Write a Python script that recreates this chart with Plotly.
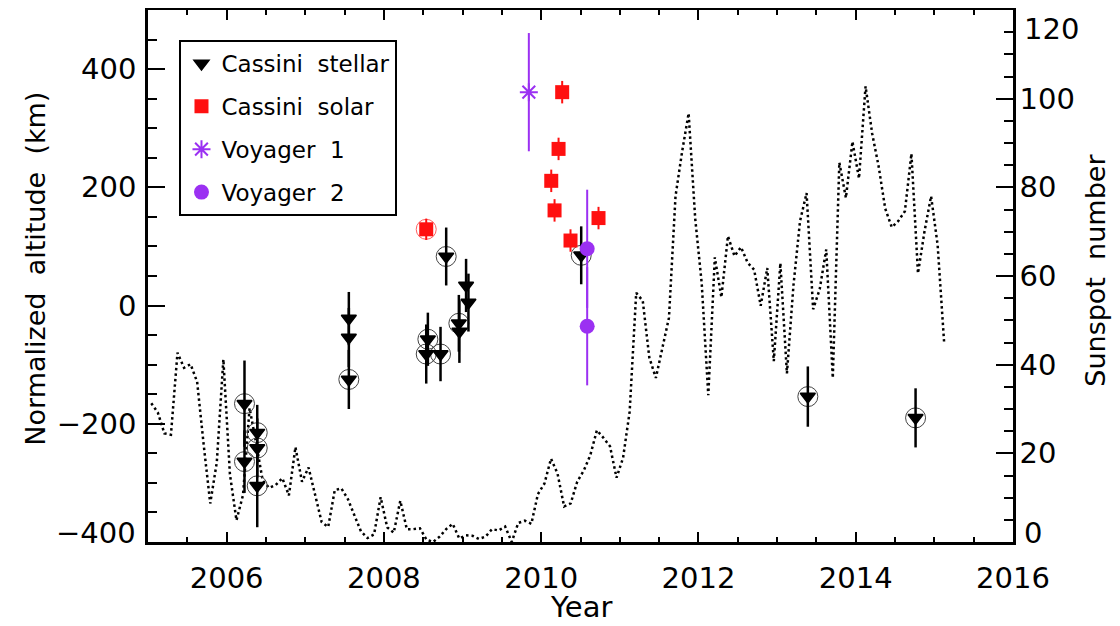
import plotly.graph_objects as go

# ---------------- data ----------------
# Cassini stellar occultations
stellar_year = [2006.227, 2006.227, 2006.389, 2006.389, 2006.389,
                2007.554, 2007.554, 2007.554,
                2008.559, 2008.538, 2008.720, 2008.792,
                2008.953, 2008.960, 2009.045, 2009.075,
                2010.509, 2013.391, 2014.761]
stellar_alt = [-166, -264, -215, -241, -305,
               -22, -54, -125,
               -57, -82, -82, 83,
               -30, -44, 34, 5,
               85, -154, -190]
stellar_err = [73, 53, 47, 50, 70,
               45, 50, 50,
               45, 50, 46, 49,
               48, 53, 45, 49,
               49, 51, 50]
stellar_circled = [True, True, True, True, True,
                   False, False, True,
                   True, True, True, True,
                   True, False, False, False,
                   True, True, True]

# Cassini solar occultations
solar_year = [2008.538, 2010.128, 2010.170, 2010.221, 2010.267, 2010.373, 2010.729]
solar_alt = [129, 211, 161, 265, 361, 110, 148]
solar_err = [18, 19, 19, 19, 19, 19, 19]
solar_circled = [True, False, False, False, False, False, False]

# Voyager
voy1_year = [2009.843]
voy1_alt = [361]
voy1_err = [100]
voy2_year = [2010.585, 2010.585]
voy2_alt = [96, -35]
voy2_err = [100, 100]

# Monthly sunspot number, Jan 2005 - Feb 2015
sunspot_start = 2005
sunspot = [31.3, 29.2, 24.5, 24.2, 42.7, 39.3, 40.1, 36.1, 21.9, 8.7, 18.0, 41.2,   # 2005
           15.3, 4.9, 10.6, 30.2, 22.3, 13.9, 12.2, 12.9, 14.4, 10.5, 21.4, 13.6,   # 2006
           16.8, 10.7, 4.5, 3.4, 11.7, 12.1, 9.7, 6.0, 2.4, 0.9, 1.7, 10.1,         # 2007
           3.3, 2.1, 9.3, 2.9, 2.9, 3.1, 0.5, 0.0, 1.2, 2.9, 4.1, 0.8,              # 2008
           1.5, 1.4, 0.7, 1.2, 2.9, 2.6, 3.5, 0.0, 4.3, 4.8, 4.1, 10.8,             # 2009
           13.2, 18.8, 15.4, 8.0, 8.7, 13.6, 16.1, 19.6, 25.2, 23.5, 21.6, 14.5,    # 2010
           19.0, 29.4, 56.2, 54.4, 41.6, 37.0, 43.9, 50.6, 78.0, 88.0, 96.7, 73.0,  # 2011
           58.3, 33.1, 64.2, 55.2, 69.0, 64.5, 66.5, 63.0, 61.4, 53.3, 61.8, 40.8,  # 2012
           62.9, 38.0, 57.9, 72.4, 78.7, 52.5, 57.0, 66.0, 37.0, 85.6, 77.6, 90.3,  # 2013
           82.0, 102.8, 92.2, 84.7, 75.2, 71.0, 72.4, 74.6, 87.6, 60.6, 70.1, 78.0, # 2014
           67.0, 44.8]                                                             # 2015
sunspot_x = [sunspot_start + (i + 0.5) / 12 for i in range(len(sunspot))]

x_ticks = [2006, 2008, 2010, 2012, 2014, 2016]
alt_ticks = [-400, -200, 0, 200, 400]
sunspot_ticks = [0, 20, 40, 60, 80, 100, 120]

# ---------------- styles ----------------
FONT = "DejaVu Sans"
PURPLE = "#9b30f2"
RED = "#ff1010"
TICK_SIZE = 29

fig = go.Figure()

# sunspot number (primary y, drawn on right)
fig.add_trace(go.Scatter(
    x=sunspot_x, y=sunspot, mode="lines", yaxis="y",
    line=dict(color="black", width=2.5, dash="2.5px,3px"),
    showlegend=False, hoverinfo="skip"))

# circles around selected points
cx = [x for x, c in zip(stellar_year, stellar_circled) if c]
cy = [y for y, c in zip(stellar_alt, stellar_circled) if c]
fig.add_trace(go.Scatter(
    x=cx, y=cy, mode="markers", yaxis="y2",
    marker=dict(symbol="circle-open", size=20, color="#444444", line=dict(width=1)),
    showlegend=False, hoverinfo="skip"))
sx = [x for x, c in zip(solar_year, solar_circled) if c]
sy = [y for y, c in zip(solar_alt, solar_circled) if c]
fig.add_trace(go.Scatter(
    x=sx, y=sy, mode="markers", yaxis="y2",
    marker=dict(symbol="circle-open", size=20, color="#ff6060", line=dict(width=1)),
    showlegend=False, hoverinfo="skip"))

fig.add_trace(go.Scatter(
    x=stellar_year, y=stellar_alt, mode="markers", yaxis="y2",
    name="Cassini\u00a0 stellar", legendgroup="a",
    error_y=dict(type="data", array=stellar_err, color="black", thickness=2.5, width=0),
    marker=dict(symbol="triangle-down", size=13, color="black",
                line=dict(width=1.5, color="black"))))

fig.add_trace(go.Scatter(
    x=solar_year, y=solar_alt, mode="markers", yaxis="y2",
    name="Cassini\u00a0 solar", legendgroup="b",
    error_y=dict(type="data", array=solar_err, color=RED, thickness=2, width=0),
    marker=dict(symbol="square", size=14, color=RED)))

fig.add_trace(go.Scatter(
    x=voy1_year, y=voy1_alt, mode="markers", yaxis="y2",
    name="Voyager\u00a0 1", legendgroup="c",
    error_y=dict(type="data", array=voy1_err, color=PURPLE, thickness=2, width=0),
    marker=dict(symbol="asterisk-open", size=15, color=PURPLE, line=dict(width=2, color=PURPLE))))

fig.add_trace(go.Scatter(
    x=voy2_year, y=voy2_alt, mode="markers", yaxis="y2",
    name="Voyager\u00a0 2", legendgroup="d",
    error_y=dict(type="data", array=voy2_err, color=PURPLE, thickness=2, width=0),
    marker=dict(symbol="circle", size=15, color=PURPLE)))

tickfont = dict(family=FONT, size=TICK_SIZE, color="black")


def fmt(v):
    return str(v).replace("-", "\u2212")


# end labels are kept inside the axis extent (as in the original), drawn as annotations
sunspot_ticktext = ["" if v in (sunspot_ticks[0], sunspot_ticks[-1]) else fmt(v) for v in sunspot_ticks]
alt_ticktext = ["" if v == alt_ticks[0] else fmt(v) for v in alt_ticks]

edge_labels = [
    dict(text=fmt(sunspot_ticks[0]), xref="paper", yref="y", x=1, y=sunspot_ticks[0],
         xanchor="left", yanchor="bottom", xshift=9, yshift=-10),
    dict(text=fmt(sunspot_ticks[-1]), xref="paper", yref="y", x=1, y=sunspot_ticks[-1],
         xanchor="left", yanchor="top", xshift=9, yshift=0),
    dict(text=fmt(alt_ticks[0]), xref="paper", yref="y2", x=0, y=alt_ticks[0],
         xanchor="right", yanchor="bottom", xshift=-10, yshift=-10),
]
for a in edge_labels:
    a.update(showarrow=False, font=tickfont)

# The page body adds an 8 px margin, so the figure is 8 px smaller than the window.
fig.update_layout(
    width=1112, height=618,
    margin=dict(l=140, r=107, t=2, b=84, autoexpand=False),
    paper_bgcolor="white", plot_bgcolor="white",
    font=dict(family=FONT, color="black"),
    xaxis=dict(
        range=[2005, 2016], tickmode="array", tickvals=x_ticks,
        ticktext=[str(t) for t in x_ticks], automargin=False,
        ticks="inside", ticklen=10, tickwidth=2, tickcolor="black",
        minor=dict(dtick=0.5, tick0=2005, ticks="inside", ticklen=5, tickwidth=2, tickcolor="black"),
        showline=True, linewidth=2.5, linecolor="black", mirror="ticks",
        showgrid=False, zeroline=False, tickfont=tickfont, ticklabelstandoff=8,
        ticklabeloverflow="allow"),
    yaxis=dict(
        range=[0, 120], side="right", tickmode="array", tickvals=sunspot_ticks,
        ticktext=sunspot_ticktext, automargin=False,
        ticks="inside", ticklen=17, tickwidth=2, tickcolor="black",
        minor=dict(dtick=5, tick0=0, ticks="inside", ticklen=9, tickwidth=2, tickcolor="black"),
        showline=True, linewidth=2.5, linecolor="black",
        showgrid=False, zeroline=False, tickfont=tickfont, ticklabelstandoff=-2,
        ticklabeloverflow="allow"),
    yaxis2=dict(
        range=[-400, 500], side="left", overlaying="y", tickmode="array",
        tickvals=alt_ticks, ticktext=alt_ticktext, automargin=False,
        ticks="inside", ticklen=17, tickwidth=2, tickcolor="black",
        minor=dict(dtick=50, tick0=-400, ticks="inside", ticklen=9, tickwidth=2, tickcolor="black"),
        showline=True, linewidth=2.5, linecolor="black",
        showgrid=False, zeroline=False, tickfont=tickfont, ticklabelstandoff=3,
        ticklabeloverflow="allow"),
    legend=dict(
        x=0.0364, y=0.9437, xanchor="left", yanchor="top",
        bgcolor="white", bordercolor="black", borderwidth=2,
        font=dict(family=FONT, size=23, color="black"),
        traceorder="grouped", tracegroupgap=10),
    annotations=edge_labels + [
        dict(text="Year", xref="paper", yref="paper", x=0.5, y=-0.123,
             xanchor="center", yanchor="middle", showarrow=False,
             font=dict(family=FONT, size=29, color="black")),
        dict(text="Normalized\u00a0 altitude\u00a0 (km)", xref="paper", yref="paper",
             x=-0.130, y=0.513, textangle=-90, xanchor="center", yanchor="middle",
             showarrow=False, font=dict(family=FONT, size=27, color="black")),
        dict(text="Sunspot\u00a0 number", xref="paper", yref="paper",
             x=1.096, y=0.51, textangle=-90, xanchor="center", yanchor="middle",
             showarrow=False, font=dict(family=FONT, size=27, color="black")),
    ],
)

fig.write_html("out.html")
